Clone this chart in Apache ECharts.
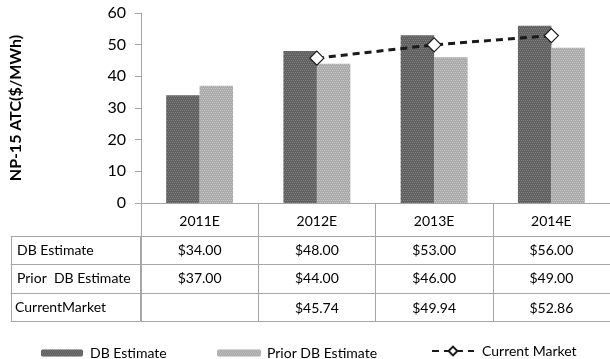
<!DOCTYPE html>
<html>
<head>
<meta charset="utf-8">
<script src="https://cdn.jsdelivr.net/npm/echarts@6/dist/echarts.min.js"></script>
<style>html,body{margin:0;padding:0;background:#fff}#c{width:610px;height:359px}</style>
</head>
<body>
<div id="c"></div>
<script>
const categories = ['2011E', '2012E', '2013E', '2014E'];
const dbEstimate = [34, 48, 53, 56];
const priorEstimate = [37, 44, 46, 49];
const currentMarket = [null, 45.74, 49.94, 52.86];
const seriesNames = ['DB Estimate', 'Prior DB Estimate', 'Current Market'];
const rowLabels = ['DB Estimate', 'Prior  DB Estimate', 'CurrentMarket'];
const yAxisName = 'NP-15 ATC($/MWh)';
const yMin = 0, yMax = 60, yInterval = 10;

const fmt = v => (v == null ? '' : '$' + v.toFixed(2));
const rowData = [dbEstimate, priorEstimate, currentMarket].map(a => a.map(fmt));

const lineColor = '#a6a6a6';
const FONT = 'Lato';
const rowOffsets = [33, 61, 90];
const rowTickLen = [28, 29, 28];
const rowLabelMargin = [7, 7, 8];

const xAxes = [];
xAxes.push({
  gridIndex: 0, type: 'category', data: categories, position: 'bottom', offset: 0,
  axisLine: { onZero: false, lineStyle: { color: lineColor } },
  axisTick: { show: true, interval: 0, length: 33, lineStyle: { color: lineColor } },
  axisLabel: { interval: 0, margin: 11, fontSize: 14, color: '#000', fontFamily: FONT }
});
rowData.forEach((d, i) => {
  xAxes.push({
    gridIndex: 0, type: 'category', data: d, position: 'bottom', offset: rowOffsets[i],
    axisLine: { onZero: false, lineStyle: { color: lineColor } },
    axisTick: { show: true, interval: 0, length: rowTickLen[i], lineStyle: { color: lineColor } },
    axisLabel: { interval: 0, margin: rowLabelMargin[i], fontSize: 14, color: '#000', fontFamily: FONT },
    name: rowLabels[i], nameLocation: 'start', nameGap: i === 2 ? 126 : 124,
    nameTextStyle: { align: 'left', verticalAlign: 'top', padding: [7, 0, 0, 0], fontSize: 14, color: '#000', fontFamily: FONT }
  });
});
xAxes.push({
  gridIndex: 0, type: 'category', data: categories, position: 'bottom', offset: 118,
  axisLine: { onZero: false, lineStyle: { color: lineColor } },
  axisTick: { show: false }, axisLabel: { show: false }
});
rowOffsets.concat([118]).forEach((off, i) => {
  xAxes.push({
    gridIndex: 1, type: 'category', data: [''], position: 'bottom', offset: off,
    axisLine: { onZero: false, lineStyle: { color: lineColor } },
    axisTick: { show: i < 3, interval: 0, length: rowTickLen[i] || 0, lineStyle: { color: lineColor } },
    axisLabel: { show: false }
  });
});

const option = {
  animation: false,
  textStyle: { fontFamily: FONT },
  grid: [
    { left: 140, width: 476, top: 13, height: 190 },
    { left: 11, width: 129, top: 13, height: 190 }
  ],
  legend: [
    { data: [seriesNames[0]], left: 36, top: 341, itemWidth: 42, itemHeight: 7,
      textStyle: { fontSize: 14, color: '#000', fontFamily: FONT, padding: [0, 0, 0, 2] } },
    { data: [seriesNames[1]], left: 212, top: 341, itemWidth: 44, itemHeight: 7,
      textStyle: { fontSize: 14, color: '#000', fontFamily: FONT, padding: [0, 0, 0, 1] } },
    { data: [seriesNames[2]], left: 426, top: 339, itemWidth: 42, itemHeight: 11,
      textStyle: { fontSize: 14, color: '#000', fontFamily: FONT, padding: [0, 0, 0, 3] } }
  ],
  xAxis: xAxes,
  yAxis: [
    {
      gridIndex: 0, type: 'value', min: yMin, max: yMax, interval: yInterval,
      axisLine: { show: true, lineStyle: { color: lineColor } },
      axisTick: { show: true, length: 6, lineStyle: { color: lineColor } },
      axisLabel: { margin: 15, fontSize: 16, color: '#000', fontFamily: FONT },
      splitLine: { show: false },
      name: yAxisName, nameLocation: 'middle', nameGap: 117,
      nameTextStyle: { fontSize: 16, fontWeight: 'bold', color: '#000', fontFamily: FONT }
    },
    { gridIndex: 1, type: 'value', show: false }
  ],
  series: [
    { name: seriesNames[0], type: 'bar', data: dbEstimate, xAxisIndex: 0, yAxisIndex: 0,
      barGap: '0%', barCategoryGap: '43%',
      itemStyle: { color: '#606060',
        decal: { symbol: 'rect', symbolSize: 1, dashArrayX: [[1, 1], [0, 1, 1, 0]], dashArrayY: [1, 1], color: '#808080' } } },
    { name: seriesNames[1], type: 'bar', data: priorEstimate, xAxisIndex: 0, yAxisIndex: 0,
      barGap: '0%', barCategoryGap: '43%',
      itemStyle: { color: '#aaaaaa',
        decal: { symbol: 'rect', symbolSize: 1, dashArrayX: [[1, 1], [0, 1, 1, 0]], dashArrayY: [1, 1], color: '#c8c8c8' } } },
    { name: seriesNames[2], type: 'line', data: currentMarket, xAxisIndex: 0, yAxisIndex: 0,
      z: 5, symbol: 'diamond', symbolSize: 14, showAllSymbol: true,
      lineStyle: { color: '#1a1a1a', width: 3, type: [7, 5] },
      itemStyle: { color: '#fff', borderColor: '#1a1a1a', borderWidth: 1.2 } }
  ]
};
echarts.init(document.getElementById('c')).setOption(option);
</script>
</body>
</html>
